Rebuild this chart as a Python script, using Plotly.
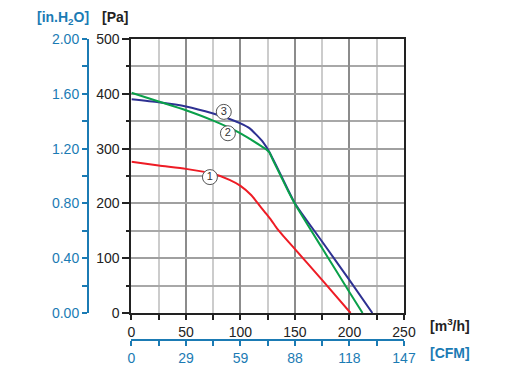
import plotly.graph_objects as go

# ---- data ----
red_x = [0, 25, 50, 75, 90, 100, 110, 116, 122, 128, 134, 140, 148, 175, 201]
red_y = [276, 269, 263, 254, 243, 232, 215, 200, 185, 170, 153, 139, 121, 60, 0]

green_x = [0, 25, 50, 75, 100, 110, 118, 124, 126.5, 130, 136, 143.6, 150, 175, 200, 212]
green_y = [402, 386, 370, 351, 328, 316, 306, 298, 293, 278, 254, 223, 199, 118, 38, 0]

blue_x = [0, 25, 50, 75, 90, 100, 108.5, 114.7, 120.7, 126.5, 130, 136, 143.6, 150, 175, 200, 221]
blue_y = [390, 384.5, 377, 364, 354, 346, 337, 325, 312, 294, 280, 256, 225, 200, 130, 60, 0]

curve_labels = ["1", "2", "3"]
label_x = [72, 88.5, 84.7]
label_y = [248, 328, 367]

pa_ticks = [0, 100, 200, 300, 400, 500]
inh2o_ticks = [0.0, 0.4, 0.8, 1.2, 1.6, 2.0]
inh2o_text = ["0.00", "0.40", "0.80", "1.20", "1.60", "2.00"]
m3h_ticks = [0, 50, 100, 150, 200, 250]
cfm_text = ["0", "29", "59", "88", "118", "147"]

BLUE = "#1b7bb4"
FONT = "Liberation Sans"

# page body has an 8px default margin: lay out in page pixels, shifted
OFF = 8
W, H = 514 - OFF, 379 - OFF
LEFT_AX, PLOT_L, PLOT_R = 88 - OFF, 131.5 - OFF, 404.5 - OFF
PLOT_T, PLOT_B, CFM_Y = 39 - OFF, 313 - OFF, 340 - OFF
ml, mt = LEFT_AX, PLOT_T
mr = W - PLOT_R
mb = H - CFM_Y
pw = W - ml - mr
ph = H - mt - mb
x0 = (PLOT_L - ml) / pw
y0 = (CFM_Y - PLOT_B) / ph

fig = go.Figure()
line_common = dict(width=2, shape="spline", smoothing=0.6)
fig.add_trace(go.Scatter(x=blue_x, y=blue_y, mode="lines",
                         line=dict(color="#2e3192", **line_common), hoverinfo="skip"))
fig.add_trace(go.Scatter(x=green_x, y=green_y, mode="lines",
                         line=dict(color="#0aa04a", **line_common), hoverinfo="skip"))
fig.add_trace(go.Scatter(x=red_x, y=red_y, mode="lines",
                         line=dict(color="#ee1c25", **line_common), hoverinfo="skip"))
fig.add_trace(go.Scatter(x=label_x, y=label_y, mode="markers+text", text=curve_labels,
                         textposition="middle center",
                         textfont=dict(family=FONT, size=11, color="#333333"),
                         marker=dict(size=15, color="white", line=dict(color="#555555", width=1)),
                         hoverinfo="skip"))
# secondary axes carriers
fig.add_trace(go.Scatter(x=[None], y=[None], xaxis="x2", yaxis="y", showlegend=False, hoverinfo="skip"))
fig.add_trace(go.Scatter(x=[None], y=[None], xaxis="x", yaxis="y2", showlegend=False, hoverinfo="skip"))

fig.update_layout(
    width=W, height=H,
    margin=dict(l=ml, r=mr, t=mt, b=mb, pad=0, autoexpand=False),
    paper_bgcolor="white", plot_bgcolor="white",
    showlegend=False,
    font=dict(family=FONT, size=14, color="#222222"),
    xaxis=dict(
        domain=[x0, 1], range=[0, 250], tickvals=m3h_ticks, automargin=False,
        showgrid=True, gridcolor="#8c8c8c", gridwidth=1.5,
        showline=True, linecolor="#222222", linewidth=2, mirror=True,
        ticks="outside", ticklen=5, tickcolor="#222222", tickwidth=1.5,
        minor=dict(dtick=25, showgrid=True, gridcolor="#cccccc", gridwidth=1.5,
                   ticks="outside", ticklen=5, tickcolor="#222222"),
        zeroline=False, tickfont=dict(size=14, color="#222222"),
        fixedrange=True,
    ),
    xaxis2=dict(
        overlaying="x", anchor="free", position=0, side="bottom", automargin=False,
        domain=[x0, 1], range=[0, 250], tickvals=m3h_ticks, ticktext=cfm_text,
        showgrid=False, showline=True, linecolor=BLUE, linewidth=2,
        ticks="outside", ticklen=5, tickcolor=BLUE, tickwidth=1.5,
        minor=dict(dtick=25, ticks="outside", ticklen=5, tickcolor=BLUE, showgrid=False),
        zeroline=False, tickfont=dict(size=14, color=BLUE),
    ),
    yaxis=dict(
        domain=[y0, 1], range=[0, 500], tickvals=pa_ticks, automargin=False,
        showgrid=True, gridcolor="#a0a0a0", gridwidth=1.5,
        showline=True, linecolor="#222222", linewidth=2, mirror=True,
        ticks="outside", ticklen=7, tickcolor="#222222", tickwidth=1.5,
        minor=dict(dtick=50, showgrid=True, gridcolor="#a8a8a8", gridwidth=1.5,
                   ticks="outside", ticklen=3, tickcolor="#222222"),
        zeroline=False, tickfont=dict(size=14, color="#222222"),
        fixedrange=True,
    ),
    yaxis2=dict(
        overlaying="y", anchor="free", position=0, side="left", automargin=False,
        domain=[y0, 1], range=[0, 2], tickvals=inh2o_ticks, ticktext=inh2o_text,
        showgrid=False, showline=True, linecolor=BLUE, linewidth=2,
        ticks="outside", ticklen=5, tickcolor=BLUE, tickwidth=1.5,
        minor=dict(dtick=0.2, ticks="outside", ticklen=5, tickcolor=BLUE, showgrid=False),
        zeroline=False, tickfont=dict(size=14, color=BLUE),
    ),
)

def px_x(p):
    return (p - OFF - ml) / pw

def px_y(p):
    return (H - mb - (p - OFF)) / ph

def title(text, x, y, color, xanchor="center"):
    fig.add_annotation(text=text, x=px_x(x), y=px_y(y), xref="paper", yref="paper",
                       xanchor=xanchor, yanchor="middle", showarrow=False,
                       font=dict(size=14, color=color))

title("<b>[Pa]</b>", 115.5, 17, "#222222")
title("<b>[in.H<sub>2</sub>O]</b>", 63, 18, BLUE)
title("<b>[m<sup>3</sup>/h]</b>", 429, 325, "#222222", "left")
title("<b>[CFM]</b>", 429, 353, BLUE, "left")

fig.write_html("out.html", config={"displayModeBar": False})
